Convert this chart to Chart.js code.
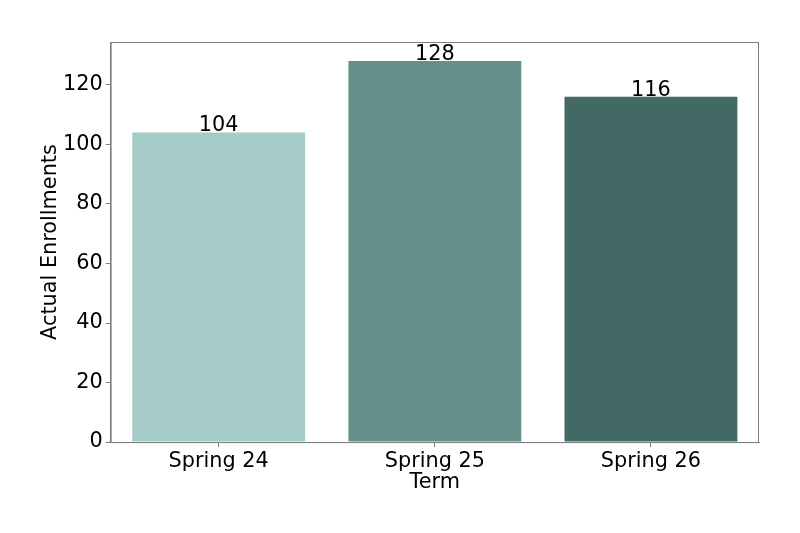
<!DOCTYPE html>
<html>
<head>
<meta charset="utf-8">
<script src="https://cdn.jsdelivr.net/npm/chart.js@4/dist/chart.umd.min.js"></script>
<style>
  html, body { margin: 0; padding: 0; background: #fff; }
  #wrap { width: 800px; height: 533px; position: relative; }
</style>
</head>
<body>
<div id="wrap"><canvas id="myChart" width="800" height="533"></canvas></div>
<script>
const terms = ["Spring 24", "Spring 25", "Spring 26"];
const enrollments = [104, 128, 116];
const barColors = ["#a5cbc8", "#658f8b", "#436965"];
const yTicks = [0, 20, 40, 60, 80, 100, 120];

const FONT = "'DejaVu Sans', sans-serif";

// draw the box round the plot and the value above each bar
const extras = {
  id: "extras",
  afterDraw(chart) {
    const ctx = chart.ctx;
    const a = chart.chartArea;
    ctx.save();
    ctx.strokeStyle = "#7f7f7f";
    ctx.lineWidth = 1;
    ctx.strokeRect(a.left + 0.5, a.top + 0.5, a.right - a.left - 1, a.bottom - a.top);
    ctx.fillStyle = "#000";
    ctx.font = "20.8px " + FONT;
    ctx.textAlign = "center";
    ctx.textBaseline = "alphabetic";
    chart.getDatasetMeta(0).data.forEach((bar, i) => {
      ctx.fillText(String(enrollments[i]), bar.x, bar.y - 1);
    });
    ctx.restore();
  },
};

const ctx = document.getElementById("myChart").getContext("2d");
new Chart(ctx, {
  type: "bar",
  data: {
    labels: terms,
    datasets: [
      {
        data: enrollments,
        backgroundColor: barColors,
        borderColor: barColors,
        borderWidth: 0,
        categoryPercentage: 0.8,
        barPercentage: 1.0,
      },
    ],
  },
  options: {
    responsive: false,
    animation: false,
    layout: { padding: { left: 0, right: 41, top: 42, bottom: 0 } },
    plugins: { legend: { display: false }, tooltip: { enabled: false } },
    scales: {
      x: {
        grid: { offset: false, drawOnChartArea: false, drawTicks: true, tickLength: 5, color: "#7f7f7f" },
        border: { display: true, color: "#7f7f7f" },
        ticks: { color: "#000", font: { family: FONT, size: 20.8 }, padding: 2, maxRotation: 0 },
        title: {
          display: true,
          text: "Term",
          color: "#000",
          font: { family: FONT, size: 20.8 },
          padding: { top: -6, bottom: 38 },
        },
      },
      y: {
        min: 0,
        max: 134.4,
        afterBuildTicks(scale) {
          scale.ticks = yTicks.map((v) => ({ value: v }));
        },
        grid: { drawOnChartArea: false, drawTicks: true, tickLength: 5, color: "#7f7f7f" },
        border: { display: true, color: "#7f7f7f" },
        ticks: { color: "#000", font: { family: FONT, size: 20.8 }, padding: 3 },
        title: {
          display: true,
          text: "Actual Enrollments",
          color: "#000",
          font: { family: FONT, size: 20.8 },
          padding: { top: 38, bottom: -3 },
        },
      },
    },
  },
  plugins: [extras],
});
</script>
</body>
</html>
